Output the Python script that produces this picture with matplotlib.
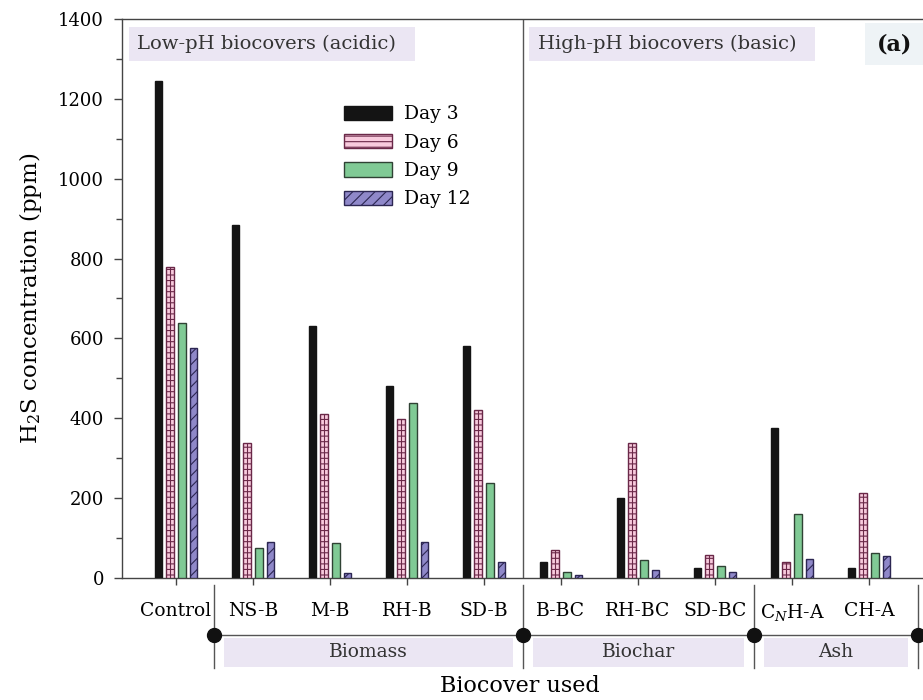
import numpy as np
import matplotlib
matplotlib.use("Agg")
import matplotlib.pyplot as plt
import matplotlib.transforms as mtransforms
from matplotlib.patches import Rectangle

plt.rcParams['font.family'] = ['DejaVu Serif']
plt.rcParams['mathtext.fontset'] = 'dejavuserif'
plt.rcParams['hatch.linewidth'] = 0.8

# data (ppm)
covers = ["Control", "NS-B", "M-B", "RH-B", "SD-B",
          "B-BC", "RH-BC", "SD-BC", "C$_N$H-A", "CH-A"]
day3 = [1245, 883, 632, 481, 582, 39, 200, 26, 376, 26]
day6 = [779, 339, 410, 398, 421, 70, 339, 58, 39, 213]
day9 = [638, 74, 87, 437, 239, 15, 45, 31, 160, 63]
day12 = [575, 91, 13, 89, 41, 7, 19, 16, 48, 56]
days = ["Day 3", "Day 6", "Day 9", "Day 12"]

groups = ["Biomass", "Biochar", "Ash"]
group_edges = [0.5, 4.5, 7.5, 9.63]

fill = ['#141414', '#f8cadd', '#80ca95', '#8f88c9']
edge = ['#141414', '#6a2848', '#2f4234', '#2c2652']
hatch = [None, '---', None, '///']

fig = plt.figure(figsize=(9.23, 7.0), dpi=100)
ax = fig.add_axes([0.1322, 0.1743, 0.8678, 0.7986])

x = np.arange(len(covers))
step = 0.152
w = 0.098
series = [day3, day6, day9, day12]
for i, vals in enumerate(series):
    ax.bar(x + (i - 1.5) * step, vals, width=w, color=fill[i], edgecolor=edge[i],
           hatch=hatch[i], linewidth=1.0, label=days[i], zorder=3)
# centre line of the day-6 box pattern
ax.vlines(x - 0.5 * step, 0, day6, color=edge[1], lw=0.8, zorder=4)

ax.set_xlim(-0.70, 9.70)
ax.set_ylim(0, 1400)
ax.set_yticks(np.arange(0, 1401, 200))
ax.set_yticks(np.arange(100, 1400, 200), minor=True)
ax.set_xticks(x)
ax.set_xticklabels(covers)
ax.tick_params(axis='y', which='major', direction='out', length=6, width=1,
               labelsize=13, pad=7, color='#444444')
ax.tick_params(axis='y', which='minor', direction='out', length=4.5, width=1,
               color='#444444')
ax.tick_params(axis='x', direction='out', length=5, width=1, labelsize=13.5,
               pad=12, color='#444444')
ax.spines['right'].set_visible(False)
for s in ['left', 'top', 'bottom']:
    ax.spines[s].set_color('#444444')
    ax.spines[s].set_linewidth(1.0)

ax.axvline(4.5, color='#555555', lw=1.0, zorder=2)

ax.set_ylabel("H$_2$S concentration (ppm)", fontsize=16.5, labelpad=10)
fig.text(0.563, 0.004, "Biocover used", fontsize=16, ha='center', va='bottom')

# panel headers
trans = mtransforms.blended_transform_factory(ax.transData, ax.transAxes)
ax.add_patch(Rectangle((-0.61, 0.925), 3.71, 0.061, transform=trans,
                       facecolor='#ebe6f3', edgecolor='none', zorder=1))
ax.text(-0.50, 0.955, "Low-pH biocovers (acidic)", transform=trans,
        fontsize=14, va='center', ha='left', color='#333333', zorder=4)
ax.add_patch(Rectangle((4.59, 0.925), 3.71, 0.061, transform=trans,
                       facecolor='#ebe6f3', edgecolor='none', zorder=1))
ax.text(4.70, 0.955, "High-pH biocovers (basic)", transform=trans,
        fontsize=14, va='center', ha='left', color='#333333', zorder=4)
ax.add_patch(Rectangle((8.95, 0.917), 0.76, 0.075, transform=trans,
                       facecolor='#eef3f6', edgecolor='none', zorder=1,
                       clip_on=False))
ax.text(9.33, 0.955, "(a)", transform=trans, fontsize=16, fontweight='bold',
        va='center', ha='center', color='#111111', zorder=4)

# group brackets below the axis
ax.plot([group_edges[0], group_edges[-1]], [-0.102, -0.102], transform=trans,
        color='#555555', lw=1.0, clip_on=False)
for ge in group_edges:
    ax.plot([ge, ge], [-0.0125, -0.161], transform=trans, color='#555555',
            lw=1.0, clip_on=False)
    ax.plot([ge], [-0.102], transform=trans, marker='o', ms=10, color='#111111',
            clip_on=False)
for j, g in enumerate(groups):
    a = group_edges[j] + 0.13
    b = group_edges[j + 1] - 0.12
    ax.add_patch(Rectangle((a, -0.159), b - a, 0.052, transform=trans,
                           facecolor='#ebe6f3', edgecolor='none', clip_on=False))
    ax.text((a + b) / 2, -0.133, g, transform=trans, fontsize=13.5,
            ha='center', va='center', color='#333333')

ax.legend(loc='upper left', bbox_to_anchor=(0.265, 0.862), frameon=False,
          fontsize=13.5, handlelength=2.6, handleheight=0.8, labelspacing=0.55,
          borderpad=0, handletextpad=0.6)

fig.savefig("out.png", dpi=100)
